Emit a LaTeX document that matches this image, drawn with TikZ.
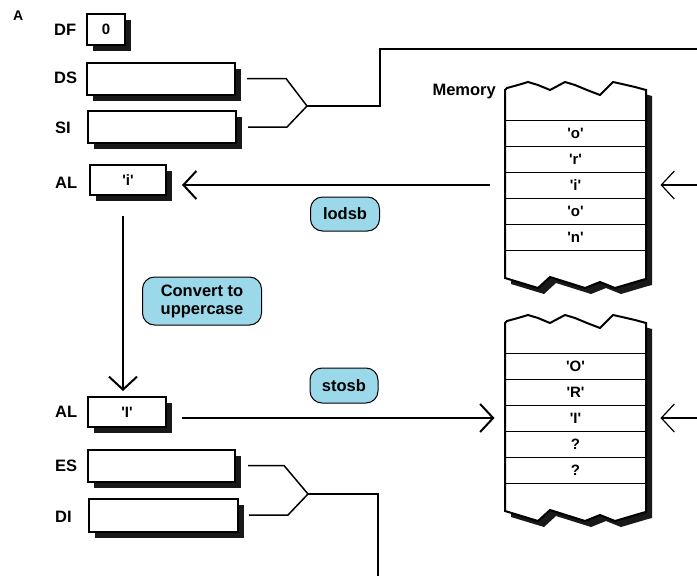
\documentclass[tikz,border=0pt]{standalone}
\usepackage{fontspec}
\setmainfont{Liberation Sans}
\usetikzlibrary{arrows.meta,shadows,positioning}
\definecolor{tagblue}{RGB}{155,217,234}
\newcommand{\qt}[1]{\textquotesingle#1\textquotesingle}

\begin{document}
\begin{tikzpicture}[x=1pt, y=-1pt,
    lbl/.style={font=\fontsize{16.5}{18}\selectfont\bfseries, inner sep=0pt, anchor=west},
    shade6/.style={drop shadow={shadow xshift=6pt, shadow yshift=-6pt, fill=black!90, opacity=1}},
    reg/.style={draw, line width=2pt, fill=white, inner sep=0pt, minimum height=32pt,
        font=\fontsize{15}{17}\selectfont\bfseries, shade6},
    tag/.style={draw, line width=1pt, fill=tagblue, rounded corners=12pt, inner sep=0pt,
        align=center, font=\fontsize{16.5}{18}\selectfont\bfseries},
    cell/.style={draw, line width=1pt, minimum width=141pt, minimum height=26pt, inner sep=0pt,
        font=\fontsize{15}{17}\selectfont\bfseries},
    arr/.style={line width=2pt, -{Straight Barb[length=13pt, width=28pt]}},
    arrthin/.style={line width=1.2pt, -{Straight Barb[length=13pt, width=28pt]}},
    wire/.style={line width=1.5pt}]
    \useasboundingbox (0,0) rectangle (697,576);

    % Registros
    \node[lbl, font=\fontsize{14}{16}\selectfont\bfseries] (lbla) at (13,16) {A};
    \node[reg, minimum width=38pt, minimum height=31pt] (df) at (106,29.5) {0};
    \node[reg, minimum width=148pt] (ds) at (161,78.5) {};
    \node[reg, minimum width=148pt] (si) at (162,127) {};
    \node[reg, minimum width=76pt, minimum height=30pt] (al1) at (128,180) {\qt{i}};
    \node[reg, minimum width=78pt, minimum height=30pt] (al2) at (127,412) {\qt{I}};
    \node[reg, minimum width=147pt] (es) at (161.5,465.5) {};
    \node[reg, minimum width=149pt, minimum height=33pt] (di) at (163.5,515) {};

    \node[lbl] (lbldf) at (54,30) {DF};
    \node[lbl] (lblds) at (54,78) {DS};
    \node[lbl] (lblsi) at (55,128) {SI};
    \node[lbl] (lblal1) at (55,183) {AL};
    \node[lbl] (lblal2) at (55,412) {AL};
    \node[lbl] (lbles) at (55,466) {ES};
    \node[lbl] (lbldi) at (55,517) {DI};

    % Bloques de memoria
    \foreach \dy in {0,233} {
        \draw[line width=2pt, fill=white, shade6, shift={(0,\dy)}]
            (505,90) -- (507,88) -- (518,85) -- (528,82) -- (538,85) -- (550,90)
            -- (565,82) -- (575,85) -- (587,90) -- (600,95) -- (613,82) -- (622,84)
            -- (635,87) -- (646,90) -- (646,279) -- (642,280) -- (615,288)
            -- (600,282) -- (585,288) -- (550,277) -- (538,288) -- (505,278) -- cycle;
    }
    \node[lbl, anchor=east] (memlbl) at (496,92) {Memory};

    \foreach \t [count=\i] in {o,r,i,o,n}
        \node[cell] (ma\i) at (575.5,107+26*\i) {\qt{\t}};
    \foreach \t [count=\i] in {\qt{O},\qt{R},\qt{I},?,?}
        \node[cell] (mb\i) at (575.5,340+26*\i) {\t};

    % Instrucciones
    \node[tag, minimum width=69pt, minimum height=34pt] (lodsb) at (345,214) {lodsb};
    \node[tag, minimum width=119pt, minimum height=48pt] (conv) at (202,301) {Convert to\\uppercase};
    \node[tag, minimum width=68pt, minimum height=35pt] (stosb) at (344,385.5) {stosb};

    % Flechas
    \coordinate (ina) at (697,185);
    \coordinate (inb) at (697,418);
    \draw[arr, shorten <=15pt, shorten >=15pt] (ma3.west) -- (ma3.west -| al1.east);
    \draw[arr, shorten <=20pt, shorten >=5pt] ([xshift=-5pt]al1.south) -- ([xshift=-4pt]al2.north);
    \draw[arr, shorten <=15pt, shorten >=10pt] (al2.east |- mb3.west) -- (mb3.west);
    \draw[arrthin, shorten >=14pt] (ina) -- (ma3.east);
    \draw[arrthin, shorten >=14pt] (inb) -- (mb3.east);

    % Direcciones DS:SI y ES:DI
    \coordinate (joina) at (307,106);
    \coordinate (busa) at (697,49);
    \draw[wire] ([xshift=11pt]ds.east) -- ++(39,0) -- (joina);
    \draw[wire] ([xshift=11pt]si.east) -- ++(39,0) -- (joina);
    \draw[wire] (joina) -- ++(73,0) |- (busa);

    \coordinate (joinb) at (308,494);
    \coordinate (busb) at (378,576);
    \draw[wire] ([xshift=12pt]es.east) -- ++(36,0) -- (joinb);
    \draw[wire] ([xshift=10pt]di.east) -- ++(39,0) -- (joinb);
    \draw[wire] (joinb) -| (busb);

\end{tikzpicture}
\end{document}
